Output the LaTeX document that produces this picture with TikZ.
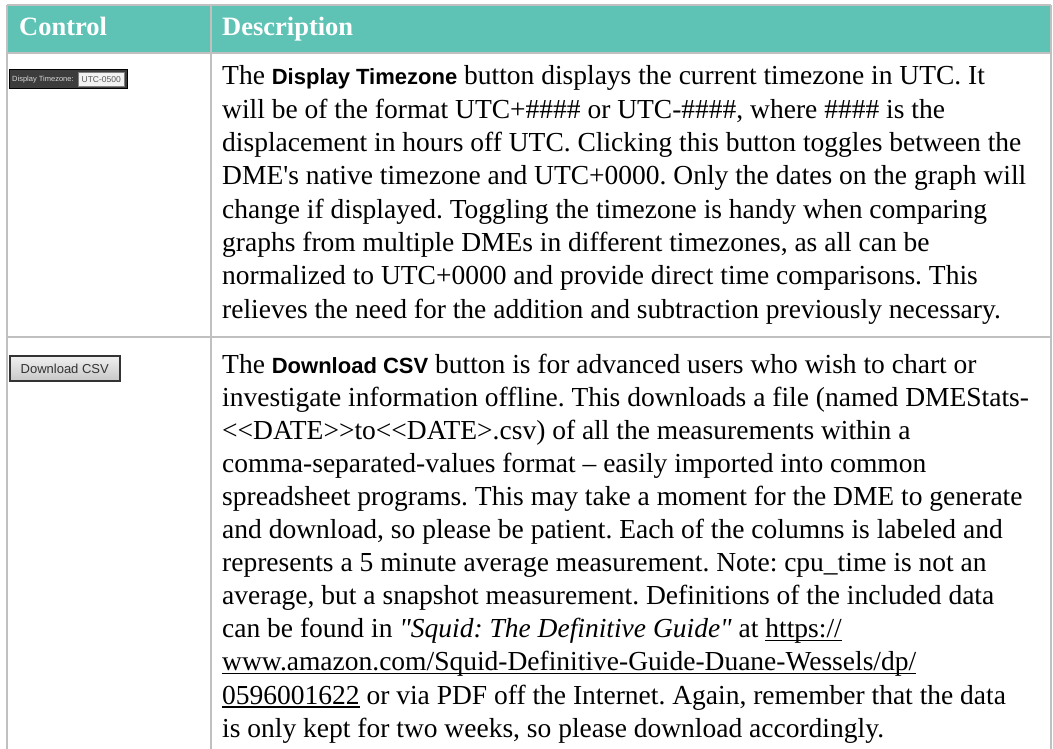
\documentclass[tikz,border=0pt]{standalone}
\usepackage{fontspec}
\newfontfamily\bodyfont{Liberation Serif}
\newfontfamily\btnfont{Liberation Sans}
\definecolor{hdrteal}{RGB}{94,194,181}
\definecolor{gridgray}{RGB}{192,192,192}
\definecolor{wdark}{RGB}{60,60,60}
\definecolor{wlight}{RGB}{242,242,242}
\frenchspacing
\newcommand\bsans[1]{{\btnfont\bfseries\fontsize{22}{22}\selectfont #1}}
\newcommand\lt{\mbox{<}}
\newcommand\gt{\mbox{>}}
\newsavebox\ulbox
\newcommand\myul[1]{\sbox\ulbox{#1}\rlap{\rule[-3.5pt]{\wd\ulbox}{1.2pt}}\usebox\ulbox}
\tikzset{
  gridline/.style={draw=gridgray, line width=2pt},
  hdrtext/.style={anchor=base west, inner sep=0pt, text=white, font=\bodyfont\bfseries\fontsize{26.5}{30}\selectfont},
  bodyline/.style={anchor=base west, inner sep=0pt, font=\bodyfont\fontsize{27.5}{30}\selectfont\frenchspacing},
}
\begin{document}
\begin{tikzpicture}[x=1pt,y=-1pt]
\useasboundingbox (0,0) rectangle (1053,749);
% header
\fill[hdrteal] (7,5) rectangle (1051,53);
\coordinate (tl) at (7,5);
\coordinate (tr) at (1051,5);
\coordinate (hl) at (7,53);
\coordinate (hr) at (1051,53);
\coordinate (rl) at (7,337);
\coordinate (rr) at (1051,337);
\coordinate (bl) at (7,749);
\coordinate (br) at (1051,749);
\coordinate (dt) at (211,5);
\coordinate (db) at (211,749);
\draw[gridline] (tl) -- (tr);
\draw[gridline] (hl) -- (hr);
\draw[gridline] (rl) -- (rr);
\draw[gridline] (tl) -- (bl);
\draw[gridline] (tr) -- (br);
\draw[gridline] (dt) -- (db);
\node[hdrtext] (hctrl) at (19,36) {Control};
\node[hdrtext] (hdesc) at (222,36) {Description};

% Display Timezone widget
\draw[draw=black, fill=wdark, line width=1pt] (9.5,70) rectangle (127,88.5);
\node[anchor=west, inner sep=0pt, text=white!85!black, font=\btnfont\fontsize{7.5}{8}\selectfont] (dtzl) at (12,79.5) {Display Timezone:};
\draw[draw=gray, fill=wlight, line width=0.6pt] (78,72) rectangle (124.5,86.5);
\node[inner sep=0pt, text=black!65, font=\btnfont\fontsize{8.5}{9}\selectfont] (dtzv) at (101.25,79.5) {UTC-0500};

% Download CSV button
\shade[top color=black!6, bottom color=black!22, draw=black!80, line width=2pt] (10,356) rectangle (119.5,381);
\node[inner sep=0pt, text=black!80, font=\btnfont\fontsize{13}{14}\selectfont] (dcsv) at (64.75,368.5) {Download CSV};

% row 1 text
\node[bodyline] (a1) at (222,85) {The \bsans{Display Timezone} button displays the current timezone in UTC. It};
\node[bodyline] (a2) at (222,118.3) {will be of the format UTC+\#\#\#\# or UTC-\#\#\#\#, where \#\#\#\# is the};
\node[bodyline] (a3) at (222,151.6) {displacement in hours off UTC. Clicking this button toggles between the};
\node[bodyline] (a4) at (222,184.9) {DME's native timezone and UTC+0000. Only the dates on the graph will};
\node[bodyline] (a5) at (222,218.2) {change if displayed. Toggling the timezone is handy when comparing};
\node[bodyline] (a6) at (222,251.5) {graphs from multiple DMEs in different timezones, as all can be};
\node[bodyline] (a7) at (222,284.8) {normalized to UTC+0000 and provide direct time comparisons. This};
\node[bodyline] (a8) at (222,318.1) {relieves the need for the addition and subtraction previously necessary.};

% row 2 text
\node[bodyline] (b1) at (222,373) {The \bsans{Download CSV} button is for advanced users who wish to chart or};
\node[bodyline] (b2) at (222,406.1) {investigate information offline. This downloads a file (named DMEStats-};
\node[bodyline] (b3) at (222,439.2) {\lt\lt DATE\gt\gt to\lt\lt DATE\gt.csv) of all the measurements within a};
\node[bodyline] (b4) at (222,472.3) {comma-separated-values format – easily imported into common};
\node[bodyline] (b5) at (222,505.4) {spreadsheet programs. This may take a moment for the DME to generate};
\node[bodyline] (b6) at (222,538.5) {and download, so please be patient. Each of the columns is labeled and};
\node[bodyline] (b7) at (222,571.6) {represents a 5 minute average measurement. Note: cpu\_time is not an};
\node[bodyline] (b8) at (222,604.7) {average, but a snapshot measurement. Definitions of the included data};
\node[bodyline] (b9) at (222,637.8) {can be found in \textit{"Squid: The Definitive Guide"} at \myul{https://}};
\node[bodyline] (b10) at (222,670.9) {\myul{www.amazon.com/Squid-Definitive-Guide-Duane-Wessels/dp/}};
\node[bodyline] (b11) at (222,704) {\myul{0596001622} or via PDF off the Internet. Again, remember that the data};
\node[bodyline] (b12) at (222,737.1) {is only kept for two weeks, so please download accordingly.};
\end{tikzpicture}
\end{document}
